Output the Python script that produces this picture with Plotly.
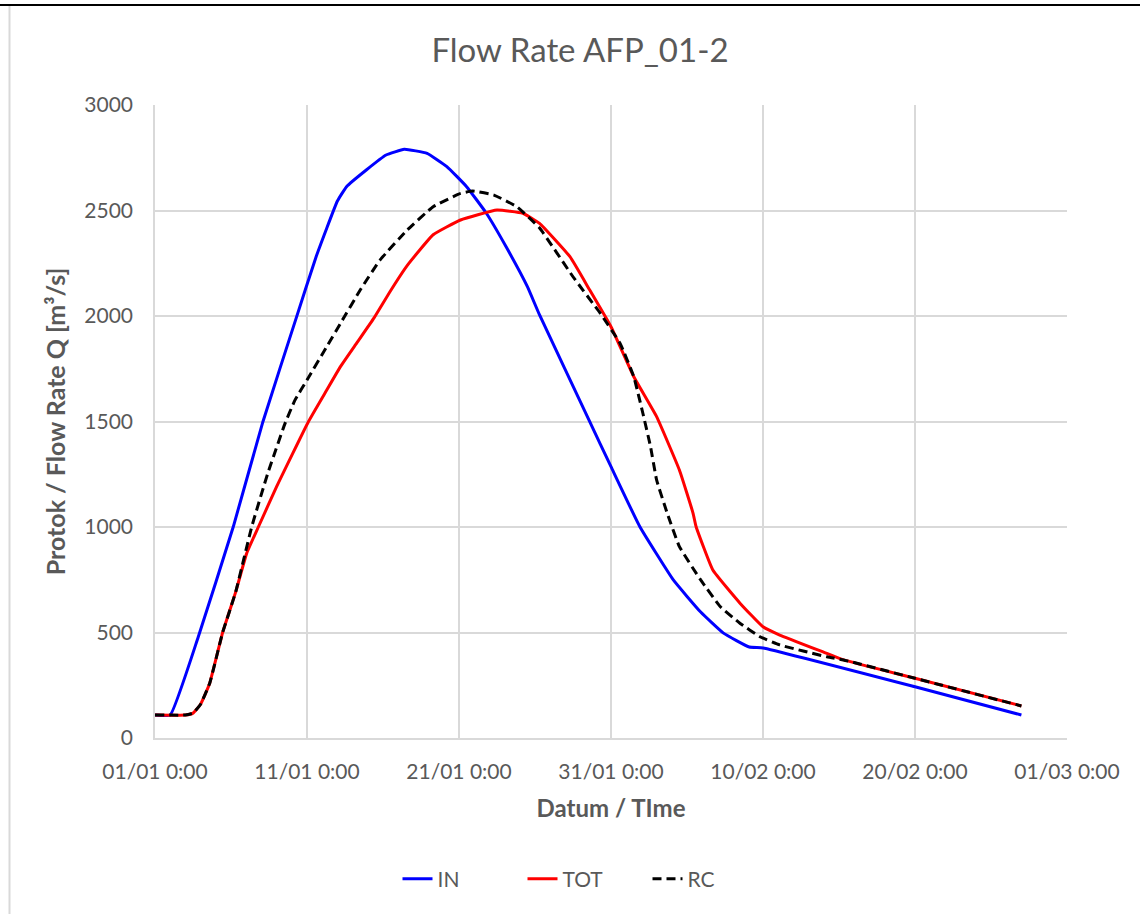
import plotly.graph_objects as go
from datetime import datetime, timedelta

# ---- data (day offsets from 01/01 and flow values) ----
start_date = datetime(2024, 1, 1)

in_days = [0, 1, 2.85, 5.15, 7.1, 9.32, 10.6, 12.0, 12.6, 13.9, 15.2, 16.4, 17.9,
           19.2, 20.5, 21.8, 23.1, 24.5, 25.3, 28.6, 30.0, 31.9, 34.1, 35.9, 37.4,
           39.1, 40.0, 50.0, 57.0]
in_vals = [109, 109, 480, 1001, 1499, 1997, 2281, 2545, 2613, 2692, 2763, 2790, 2771,
           2708, 2613, 2487, 2328, 2139, 2005, 1499, 1286, 1001, 749, 597, 497,
           431, 427, 243, 109]

tot_days = [0, 2.0, 2.5, 3.0, 3.6, 4.45, 5.3, 6.03, 6.8, 8.0, 10.1, 11.3, 12.2, 13.3,
            14.4, 15.5, 16.6, 18.3, 20.1, 22.5, 24.2, 25.3, 27.3, 28.6, 30.0, 31.5,
            33.0, 34.5, 35.4, 35.6, 36.7, 38.5, 40.0, 41.1, 44.2, 45.3, 50.0, 57.0]
tot_vals = [109, 109, 118, 160, 260, 500, 690, 875, 1000, 1191, 1500, 1649, 1760, 1875,
            1990, 2120, 2240, 2385, 2455, 2502, 2487, 2439, 2281, 2123, 1949, 1712,
            1523, 1270, 1065, 1001, 796, 638, 527, 488, 401, 370, 283, 152]

rc_days = [0, 2.0, 2.5, 3.0, 3.6, 4.45, 5.3, 6.36, 7.4, 8.55, 9.2, 10.0, 11.3, 12.2,
           13.5, 14.8, 16.6, 18.3, 20.1, 20.9, 22.3, 23.8, 25.3, 27.5, 29.3, 30.6,
           31.5, 32.1, 32.6, 33.0, 33.7, 34.5, 35.9, 37.2, 38.5, 39.8, 41.1, 44.2,
           45.3, 50.0, 57.0]
rc_vals = [109, 109, 118, 160, 260, 500, 690, 1000, 1250, 1490, 1600, 1697, 1855, 1965,
           2123, 2265, 2408, 2518, 2581, 2592, 2573, 2518, 2417, 2186, 2012, 1870,
           1712, 1538, 1381, 1223, 1065, 907, 749, 622, 543, 480, 441, 385,
           370, 283, 152]

tick_days = [0, 10, 20, 30, 40, 50, 60]
y_ticks = [0, 500, 1000, 1500, 2000, 2500, 3000]

def to_dates(days):
    return [start_date + timedelta(days=d) for d in days]

tick_dates = to_dates(tick_days)
tick_text = [d.strftime("%d/%m") + " 0:00" for d in tick_dates]

GREY = "#595959"
GRID = "#d9d9d9"
FONT = "Lato"
SMOOTH = 0.35

fig = go.Figure()
fig.add_trace(go.Scatter(x=to_dates(in_days), y=in_vals, name="IN", mode="lines",
                         line=dict(color="#0000ff", width=3, shape="spline", smoothing=SMOOTH)))
fig.add_trace(go.Scatter(x=to_dates(tot_days), y=tot_vals, name="TOT", mode="lines",
                         line=dict(color="#ff0000", width=3, shape="spline", smoothing=SMOOTH)))
fig.add_trace(go.Scatter(x=to_dates(rc_days), y=rc_vals, name="RC", mode="lines",
                         line=dict(color="#000000", width=3, dash="9px,5px",
                                   shape="spline", smoothing=SMOOTH)))

W, H = 1144, 914
L, R, T, B = 155, 77, 105, 176
pw, ph = W - L - R, H - T - B

def px_x(p):
    return (p - L) / pw

def px_y(p):
    return (H - B - p) / ph

fig.update_layout(
    width=W, height=H,
    margin=dict(l=L, r=R, t=T, b=B),
    paper_bgcolor="white", plot_bgcolor="white",
    font=dict(family=FONT, color=GREY),
    title=dict(text="Flow Rate AFP_01-2", x=580 / W, xanchor="center",
               y=1 - 50 / H, yanchor="middle",
               font=dict(size=33, color=GREY, family=FONT)),
    xaxis=dict(
        range=[tick_dates[0], tick_dates[-1]],
        tickvals=tick_dates, ticktext=tick_text,
        showgrid=True, gridcolor=GRID, gridwidth=1.5,
        showline=True, linecolor=GRID, linewidth=1.5,
        zeroline=False, ticks="", ticklabelstandoff=14,
        tickfont=dict(size=21, color=GREY, family=FONT),
        title=dict(text="<b>Datum / TIme</b>", standoff=18,
                   font=dict(size=24, color=GREY, family=FONT)),
    ),
    yaxis=dict(
        range=[0, 3000], tickvals=y_ticks,
        showgrid=True, gridcolor=GRID, gridwidth=1.5,
        showline=True, linecolor=GRID, linewidth=1.5,
        zeroline=False, ticks="", ticklabelstandoff=16,
        tickfont=dict(size=21, color=GREY, family=FONT),
        title=dict(text="<b>Protok / Flow Rate Q [m³/s]</b>", standoff=12,
                   font=dict(size=25, color=GREY, family=FONT)),
    ),
    legend=dict(orientation="h", x=px_x(585), xanchor="center",
                y=px_y(879), yanchor="middle",
                font=dict(size=21, color=GREY, family=FONT),
                entrywidth=80, bgcolor="rgba(0,0,0,0)"),
    shapes=[
        dict(type="line", xref="paper", yref="paper",
             x0=px_x(0), x1=px_x(1140), y0=px_y(5), y1=px_y(5),
             line=dict(color="black", width=2)),
        dict(type="line", xref="paper", yref="paper",
             x0=px_x(9.5), x1=px_x(9.5), y0=px_y(6), y1=px_y(914),
             line=dict(color=GRID, width=2)),
    ],
)

fig.write_html("out.html", config={"displayModeBar": False},
               post_script="document.body.style.margin='0';")
